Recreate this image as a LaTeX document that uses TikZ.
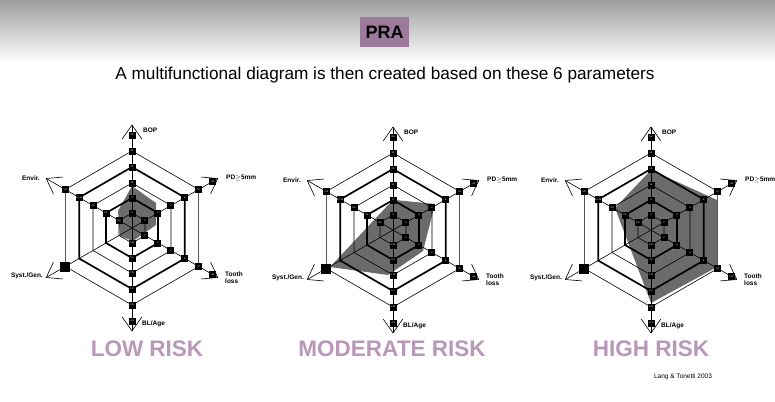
\documentclass[tikz,border=0pt]{standalone}
\usepackage{fontspec}
\setmainfont{Liberation Sans}
\begin{document}
\begin{tikzpicture}[x=1pt,y=1pt,
  thinl/.style={line width=0.6pt},
  thickl/.style={line width=1.7pt},
  bx/.style={fill=black,text=white,inner sep=0pt,minimum size=7pt,font=\fontsize{2.3}{2.3}\selectfont},
  bigbx/.style={fill=black,inner sep=0pt,minimum size=10pt},
  axl/.style={font=\fontsize{6.5}{7}\selectfont\bfseries,inner sep=1pt,align=left},
  risk/.style={font=\fontsize{22.5}{22.5}\selectfont\bfseries,text=riskc},
  polyfill/.style={fill=black!58}]
\definecolor{riskc}{HTML}{B997B9}
\definecolor{prac}{HTML}{9C7A9C}
\useasboundingbox (0,0) rectangle (775,-401);
\shade[top color=black!38,bottom color=white] (0,0) rectangle (775,-62);
\fill[white] (0,-62) rectangle (775,-401);
\node[fill=prac,minimum width=49pt,minimum height=30pt,inner sep=0pt,font=\fontsize{18}{18}\selectfont\bfseries] (pra) at (384.5,-32) {PRA};
\node[font=\fontsize{17.2}{18}\selectfont] (title) at (385,-75) {A multifunctional diagram is then created based on these 6 parameters};
\newcommand\radar[4]{%
\begin{scope}[shift={(#1,-#2)}]
 \fill[polyfill] #4;
 \foreach \a/\L in {90/103,30/99,-30/99,-90/103,210/99,150/99}{
   \draw[thinl] (0,0) -- (\a:\L);
   \draw[thinl] (\a:\L) -- ++(\a+145:17);
   \draw[thinl] (\a:\L) -- ++(\a-145:17);}
 \foreach \r/\w in {15/thinl,30/thickl,45/thinl,61/thickl,77/thinl}
   \draw[\w] (90:\r) -- (30:\r) -- (-30:\r) -- (-90:\r) -- (210:\r) -- (150:\r) -- cycle;
 \foreach \r/\t [count=\i] in {15/4,30/9,45/16,61/25,77/36,93/>50}
   \node[bx] (#3-bop\i) at (90:\r) {\t};
 \foreach \r/\t [count=\i] in {15/2,30/4,45/6,61/8,77/10,93/>12}{
   \node[bx] (#3-pd\i) at (30:\r) {\t};
   \node[bx] (#3-tl\i) at (-30:\r) {\t};}
 \foreach \r/\t [count=\i] in {15/0.25,30/0.5,45/0.75,61/1.0,77/1.25,93/>1.5}
   \node[bx] (#3-bl\i) at (-90:\r) {\t};
 \foreach \r/\t [count=\i] in {15/NS,30/FS,45/<10,61/10-19,77/>20}
   \node[bx] (#3-en\i) at (150:\r) {\t};
 \node[bigbx] (#3-sg) at (210:77) {};
 \node[axl,anchor=west] (#3-lbop) at (10,98) {BOP};
 \node[axl,anchor=west] (#3-lpd) at (93,50) {PD$\geq$5mm};
 \node[axl,anchor=north west] (#3-ltl) at (92,-43) {Tooth\\loss};
 \node[axl,anchor=west] (#3-lbl) at (9,-96) {BL/Age};
 \node[axl,anchor=east] (#3-lsg) at (-88,-48) {Syst./Gen.};
 \node[axl,anchor=east] (#3-len) at (-91,50) {Envir.};
\end{scope}}
\radar{132}{228}{low}{(0,42) -- (24,25) -- (24,3) -- (1,-13) -- (-12,-8) -- (-14,17) -- cycle}
\radar{393}{230}{mod}{(2,30) -- (42,26) -- (30,-21) -- (-5,-45) -- (-63,-37) -- (-4,26) -- cycle}
\radar{651}{230}{high}{(0,60) -- (66,30) -- (66,-37) -- (0,-73) -- (-36,22) -- cycle}
\node[risk] (lowr) at (147,-349) {LOW RISK};
\node[risk] (modr) at (392,-349) {MODERATE RISK};
\node[risk] (highr) at (651,-349) {HIGH RISK};
\node[font=\fontsize{6.5}{7}\selectfont] (cite) at (683,-377) {Lang \& Tonetti 2003};
\end{tikzpicture}
\end{document}
